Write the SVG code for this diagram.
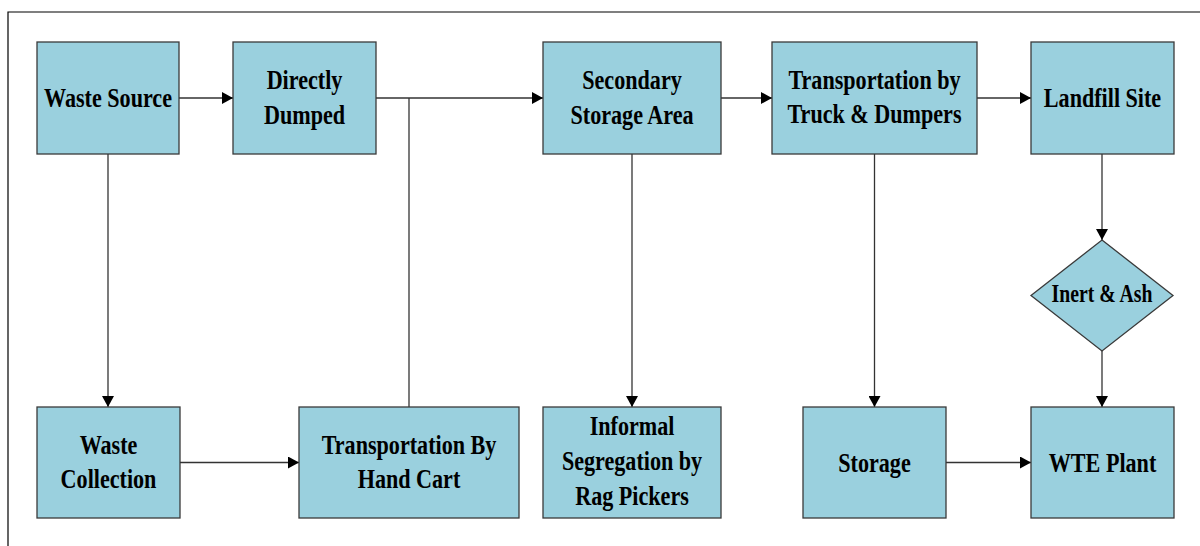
<svg xmlns="http://www.w3.org/2000/svg" width="1200" height="546" viewBox="0 0 1200 546">
  <style>
    .box { fill: #9AD0DE; stroke: #3a3a3a; stroke-width: 1.3; }
    .lbl { font-family: "Liberation Serif", "Times New Roman", serif; font-weight: bold; font-size: 28px; fill: #000; text-anchor: middle; }
    .lbl-s { font-size: 25px; }
    .wire { fill: none; stroke: #333; stroke-width: 1.3; }
    .frame { fill: none; stroke: #000; stroke-width: 1.2; }
  </style>
  <defs>
    <marker id="arrow" viewBox="0 0 11 12" refX="11" refY="6" markerWidth="11" markerHeight="12" markerUnits="userSpaceOnUse" orient="auto">
      <path d="M0,0 L11,6 L0,12 Z" fill="#000"/>
    </marker>
  </defs>

  <rect width="1200" height="546" fill="#fff"/>
  <!-- outer frame -->
  <path class="frame" d="M8,546 V12 H1200"/>

  <!-- connectors -->
  <g id="connectors">
    <path class="wire" d="M179,98 H233" marker-end="url(#arrow)"/>
    <path class="wire" d="M376,98 H543" marker-end="url(#arrow)"/>
    <path class="wire" d="M409,407 V98"/>
    <path class="wire" d="M721,98 H772" marker-end="url(#arrow)"/>
    <path class="wire" d="M977,98 H1031" marker-end="url(#arrow)"/>
    <path class="wire" d="M108,154 V407" marker-end="url(#arrow)"/>
    <path class="wire" d="M180,462.5 H299" marker-end="url(#arrow)"/>
    <path class="wire" d="M632,154 V407" marker-end="url(#arrow)"/>
    <path class="wire" d="M874.5,154 V407" marker-end="url(#arrow)"/>
    <path class="wire" d="M1102,154 V240" marker-end="url(#arrow)"/>
    <path class="wire" d="M1102,351 V407" marker-end="url(#arrow)"/>
    <path class="wire" d="M946,462.5 H1031" marker-end="url(#arrow)"/>
  </g>

  <!-- top row -->
  <g id="waste-source">
    <rect class="box" x="37" y="42" width="142" height="112"/>
    <text class="lbl" transform="translate(108,107) scale(0.79,1)">Waste Source</text>
  </g>
  <g id="directly-dumped">
    <rect class="box" x="233" y="42" width="143" height="112"/>
    <g transform="translate(304.5,0) scale(0.79,1)">
      <text class="lbl" x="0" y="89.5">Directly</text>
      <text class="lbl" x="0" y="124">Dumped</text>
    </g>
  </g>
  <g id="secondary-storage">
    <rect class="box" x="543" y="42" width="178" height="112"/>
    <g transform="translate(632,0) scale(0.79,1)">
      <text class="lbl" x="0" y="89.5">Secondary</text>
      <text class="lbl" x="0" y="124">Storage Area</text>
    </g>
  </g>
  <g id="truck-transport">
    <rect class="box" x="772" y="42" width="205" height="112"/>
    <g transform="translate(874.5,0) scale(0.79,1)">
      <text class="lbl" x="0" y="89">Transportation by</text>
      <text class="lbl" x="0" y="123.5">Truck &amp; Dumpers</text>
    </g>
  </g>
  <g id="landfill-site">
    <rect class="box" x="1031" y="42" width="143" height="112"/>
    <text class="lbl" transform="translate(1102.5,107) scale(0.79,1)">Landfill Site</text>
  </g>

  <!-- decision -->
  <g id="inert-ash">
    <polygon class="box" points="1102,240 1173,295.5 1102,351 1031,295.5"/>
    <text class="lbl lbl-s" transform="translate(1102,301.5) scale(0.79,1)">Inert &amp; Ash</text>
  </g>

  <!-- bottom row -->
  <g id="waste-collection">
    <rect class="box" x="37" y="407" width="143" height="111"/>
    <g transform="translate(108.5,0) scale(0.79,1)">
      <text class="lbl" x="0" y="454">Waste</text>
      <text class="lbl" x="0" y="488.5">Collection</text>
    </g>
  </g>
  <g id="hand-cart">
    <rect class="box" x="299" y="407" width="220" height="111"/>
    <g transform="translate(409,0) scale(0.79,1)">
      <text class="lbl" x="0" y="454">Transportation By</text>
      <text class="lbl" x="0" y="488.5">Hand Cart</text>
    </g>
  </g>
  <g id="informal-segregation">
    <rect class="box" x="543" y="407" width="178" height="111"/>
    <g transform="translate(632,0) scale(0.79,1)">
      <text class="lbl" x="0" y="435.5">Informal</text>
      <text class="lbl" x="0" y="470.5">Segregation by</text>
      <text class="lbl" x="0" y="505">Rag Pickers</text>
    </g>
  </g>
  <g id="storage">
    <rect class="box" x="803" y="407" width="143" height="111"/>
    <text class="lbl" transform="translate(874.5,471.5) scale(0.79,1)">Storage</text>
  </g>
  <g id="wte-plant">
    <rect class="box" x="1031" y="407" width="143" height="111"/>
    <text class="lbl" transform="translate(1102.5,471.5) scale(0.79,1)">WTE Plant</text>
  </g>
</svg>
